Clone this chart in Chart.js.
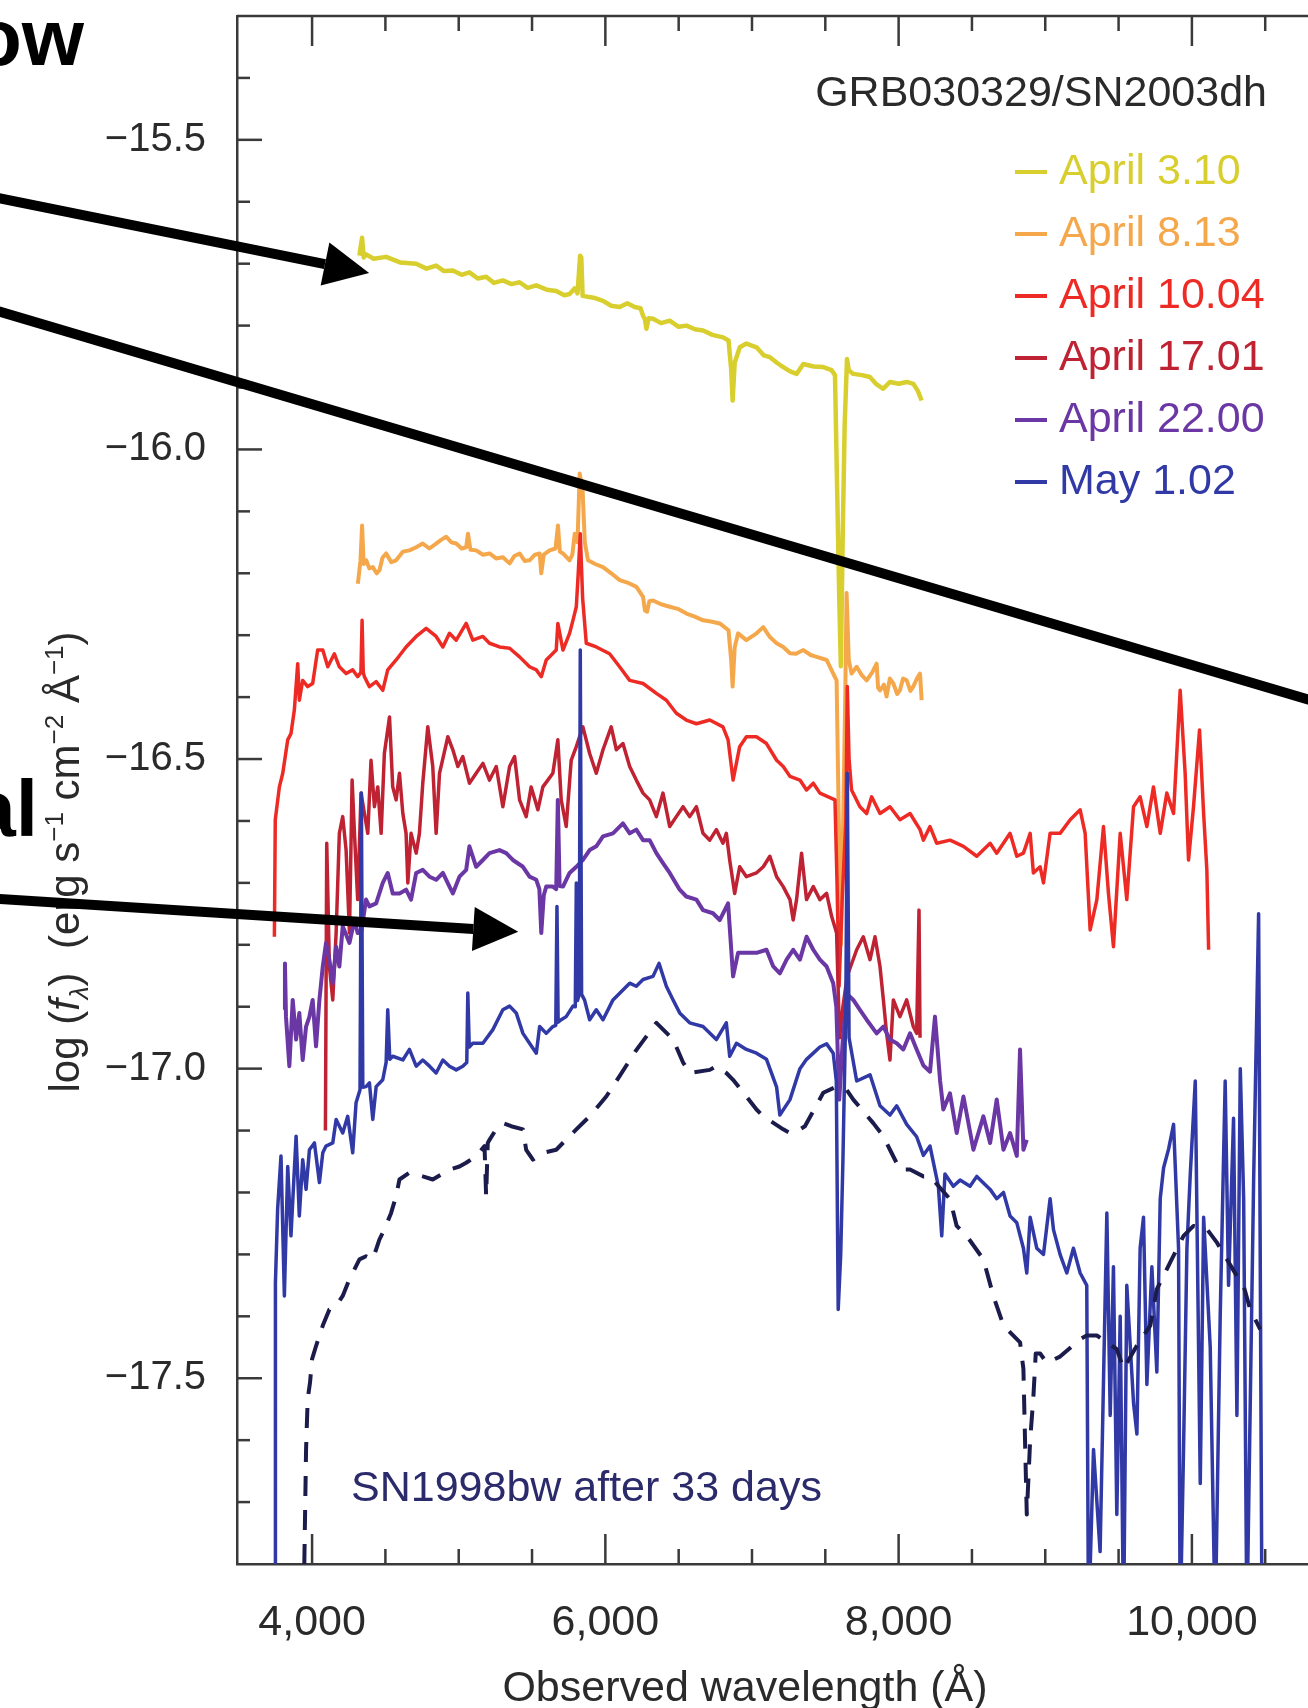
<!DOCTYPE html>
<html>
<head>
<meta charset="utf-8">
<script src="https://cdn.jsdelivr.net/npm/chart.js@4.4.1/dist/chart.umd.min.js"></script>
<style>
  html, body { margin: 0; padding: 0; background: #fff; }
  .frame { position: relative; width: 1308px; height: 1708px; overflow: hidden; }
  .box { position: absolute; left: 0; top: -64px; width: 1340px; height: 1772px; }
</style>
</head>
<body>
<div class="frame"><div class="box"><canvas id="spectra"></canvas></div></div>
<script>
// wavelength (A) vs log flux
const apr03 = [[4323,-15.687],[4330,-15.675],[4341,-15.658],[4352,-15.690],[4369,-15.685],[4420,-15.692],[4505,-15.689],[4600,-15.698],[4710,-15.700],[4780,-15.708],[4846,-15.703],[4900,-15.712],[4960,-15.711],[5020,-15.718],[5073,-15.714],[5130,-15.724],[5187,-15.721],[5240,-15.731],[5301,-15.727],[5360,-15.733],[5415,-15.730],[5470,-15.739],[5529,-15.735],[5600,-15.742],[5665,-15.744],[5720,-15.751],[5756,-15.749],[5790,-15.740],[5810,-15.748],[5828,-15.687],[5836,-15.690],[5845,-15.752],[5920,-15.755],[5984,-15.760],[6040,-15.768],[6098,-15.770],[6150,-15.764],[6200,-15.770],[6240,-15.772],[6257,-15.784],[6270,-15.790],[6280,-15.805],[6295,-15.788],[6325,-15.789],[6380,-15.796],[6439,-15.792],[6500,-15.802],[6553,-15.800],[6610,-15.806],[6667,-15.808],[6730,-15.815],[6803,-15.819],[6840,-15.824],[6858,-15.870],[6868,-15.921],[6882,-15.860],[6917,-15.835],[6962,-15.829],[7031,-15.835],[7080,-15.848],[7122,-15.851],[7170,-15.860],[7213,-15.867],[7260,-15.874],[7304,-15.878],[7350,-15.862],[7420,-15.866],[7486,-15.867],[7543,-15.872],[7566,-15.880],[7582,-16.080],[7596,-16.250],[7606,-16.350],[7618,-16.150],[7632,-15.960],[7648,-15.854],[7660,-15.872],[7691,-15.878],[7750,-15.880],[7804,-15.883],[7850,-15.895],[7895,-15.902],[7941,-15.891],[8000,-15.894],[8055,-15.891],[8100,-15.894],[8130,-15.905],[8157,-15.921]];

const apr08 = [[4312,-16.217],[4330,-16.180],[4341,-16.123],[4352,-16.185],[4369,-16.179],[4390,-16.192],[4414,-16.190],[4440,-16.200],[4460,-16.195],[4480,-16.175],[4505,-16.168],[4540,-16.182],[4573,-16.179],[4620,-16.165],[4664,-16.163],[4710,-16.158],[4755,-16.152],[4800,-16.160],[4846,-16.152],[4880,-16.146],[4915,-16.141],[4950,-16.150],[4983,-16.152],[5020,-16.160],[5051,-16.158],[5063,-16.136],[5080,-16.162],[5119,-16.163],[5165,-16.170],[5210,-16.168],[5255,-16.176],[5301,-16.174],[5347,-16.184],[5380,-16.172],[5415,-16.168],[5450,-16.180],[5483,-16.179],[5520,-16.170],[5552,-16.168],[5563,-16.200],[5580,-16.170],[5620,-16.163],[5660,-16.160],[5677,-16.123],[5690,-16.165],[5711,-16.168],[5756,-16.179],[5775,-16.170],[5791,-16.136],[5810,-16.150],[5825,-16.039],[5845,-16.066],[5860,-16.150],[5882,-16.179],[5930,-16.185],[5984,-16.190],[6040,-16.200],[6098,-16.211],[6150,-16.215],[6212,-16.222],[6257,-16.238],[6270,-16.260],[6285,-16.262],[6300,-16.245],[6325,-16.244],[6380,-16.250],[6439,-16.254],[6500,-16.258],[6553,-16.265],[6610,-16.270],[6667,-16.276],[6720,-16.278],[6780,-16.281],[6840,-16.292],[6858,-16.340],[6868,-16.383],[6882,-16.320],[6905,-16.297],[6962,-16.308],[7031,-16.297],[7077,-16.287],[7122,-16.303],[7168,-16.313],[7213,-16.319],[7259,-16.329],[7300,-16.330],[7350,-16.324],[7400,-16.332],[7441,-16.335],[7509,-16.340],[7554,-16.362],[7577,-16.373],[7592,-16.600],[7606,-16.800],[7622,-16.600],[7636,-16.400],[7645,-16.232],[7660,-16.340],[7679,-16.362],[7714,-16.351],[7750,-16.365],[7782,-16.373],[7820,-16.360],[7850,-16.346],[7860,-16.385],[7873,-16.389],[7900,-16.380],[7918,-16.399],[7940,-16.370],[7964,-16.378],[7990,-16.395],[8009,-16.389],[8030,-16.370],[8055,-16.373],[8080,-16.390],[8100,-16.383],[8125,-16.370],[8146,-16.362],[8157,-16.405]];

const apr10 = [[3743,-16.787],[3749,-16.598],[3777,-16.545],[3800,-16.523],[3834,-16.469],[3856,-16.459],[3879,-16.421],[3902,-16.346],[3913,-16.405],[3936,-16.373],[3970,-16.383],[4004,-16.378],[4038,-16.324],[4073,-16.324],[4107,-16.351],[4152,-16.330],[4186,-16.351],[4232,-16.362],[4277,-16.356],[4311,-16.367],[4333,-16.360],[4341,-16.276],[4349,-16.360],[4357,-16.367],[4391,-16.383],[4437,-16.375],[4482,-16.389],[4516,-16.356],[4573,-16.340],[4641,-16.319],[4710,-16.302],[4778,-16.289],[4846,-16.302],[4892,-16.319],[4937,-16.297],[4983,-16.308],[5051,-16.281],[5096,-16.308],[5165,-16.302],[5210,-16.313],[5278,-16.319],[5347,-16.321],[5415,-16.335],[5483,-16.351],[5529,-16.356],[5563,-16.367],[5597,-16.340],[5665,-16.324],[5676,-16.281],[5711,-16.324],[5756,-16.297],[5779,-16.276],[5802,-16.254],[5815,-16.200],[5829,-16.136],[5845,-16.240],[5870,-16.313],[5938,-16.319],[6029,-16.330],[6097,-16.351],[6166,-16.373],[6257,-16.378],[6348,-16.394],[6416,-16.405],[6484,-16.426],[6552,-16.437],[6621,-16.443],[6712,-16.437],[6802,-16.448],[6837,-16.469],[6871,-16.534],[6916,-16.480],[6962,-16.464],[7030,-16.464],[7099,-16.475],[7168,-16.502],[7213,-16.512],[7259,-16.528],[7327,-16.534],[7372,-16.550],[7418,-16.539],[7463,-16.555],[7520,-16.561],[7566,-16.566],[7580,-16.700],[7594,-16.867],[7615,-16.727],[7640,-16.600],[7650,-16.383],[7662,-16.500],[7679,-16.550],[7736,-16.577],[7782,-16.588],[7816,-16.561],[7873,-16.588],[7941,-16.577],[8009,-16.598],[8078,-16.588],[8146,-16.614],[8169,-16.631],[8214,-16.609],[8260,-16.636],[8351,-16.631],[8442,-16.641],[8533,-16.657],[8624,-16.636],[8669,-16.652],[8760,-16.620],[8806,-16.657],[8851,-16.652],[8897,-16.620],[8919,-16.684],[8965,-16.674],[8988,-16.700],[9033,-16.620],[9101,-16.620],[9170,-16.598],[9238,-16.582],[9272,-16.620],[9306,-16.776],[9352,-16.727],[9397,-16.609],[9431,-16.717],[9465,-16.803],[9511,-16.620],[9556,-16.727],[9602,-16.577],[9647,-16.561],[9693,-16.609],[9738,-16.545],[9784,-16.620],[9829,-16.555],[9875,-16.588],[9920,-16.389],[9954,-16.523],[9977,-16.663],[10011,-16.577],[10052,-16.453],[10080,-16.588],[10102,-16.679],[10114,-16.808]];

const apr17 = [[4091,-17.100],[4100,-16.636],[4118,-16.835],[4141,-16.889],[4164,-16.781],[4186,-16.620],[4209,-16.593],[4232,-16.647],[4255,-16.781],[4273,-16.534],[4289,-16.620],[4311,-16.727],[4334,-16.555],[4357,-16.588],[4380,-16.620],[4402,-16.502],[4425,-16.577],[4448,-16.545],[4471,-16.620],[4493,-16.491],[4528,-16.432],[4550,-16.545],[4573,-16.566],[4596,-16.523],[4619,-16.588],[4641,-16.620],[4653,-16.700],[4675,-16.620],[4710,-16.652],[4732,-16.620],[4755,-16.539],[4789,-16.448],[4823,-16.512],[4846,-16.620],[4869,-16.523],[4926,-16.464],[4960,-16.485],[4994,-16.512],[5028,-16.496],[5073,-16.539],[5119,-16.523],[5165,-16.507],[5210,-16.534],[5256,-16.512],[5301,-16.577],[5347,-16.512],[5381,-16.496],[5415,-16.566],[5460,-16.593],[5494,-16.545],[5540,-16.582],[5574,-16.545],[5608,-16.534],[5642,-16.523],[5676,-16.469],[5699,-16.566],[5733,-16.609],[5767,-16.502],[5802,-16.480],[5847,-16.448],[5893,-16.491],[5938,-16.523],[5984,-16.485],[6040,-16.448],[6075,-16.485],[6120,-16.475],[6166,-16.512],[6211,-16.534],[6257,-16.555],[6302,-16.566],[6348,-16.593],[6393,-16.555],[6439,-16.609],[6484,-16.593],[6530,-16.577],[6575,-16.593],[6621,-16.577],[6666,-16.620],[6712,-16.631],[6757,-16.614],[6802,-16.636],[6825,-16.620],[6848,-16.663],[6882,-16.717],[6916,-16.674],[6962,-16.690],[7030,-16.684],[7077,-16.674],[7122,-16.657],[7168,-16.690],[7213,-16.706],[7259,-16.727],[7281,-16.760],[7304,-16.727],[7338,-16.652],[7372,-16.727],[7418,-16.706],[7463,-16.727],[7509,-16.717],[7543,-16.754],[7577,-16.781],[7597,-16.950],[7620,-16.900],[7650,-16.850],[7714,-16.808],[7759,-16.787],[7805,-16.824],[7839,-16.787],[7873,-16.835],[7896,-16.889],[7918,-16.943],[7941,-16.986],[7964,-16.889],[8009,-16.916],[8055,-16.889],[8100,-16.932],[8123,-16.943],[8139,-16.744],[8146,-16.950]];

const apr22 = [[3811,-16.905],[3815,-16.830],[3822,-16.916],[3845,-16.996],[3868,-16.889],[3891,-16.953],[3913,-16.910],[3936,-16.986],[3959,-16.932],[3982,-16.916],[4004,-16.889],[4027,-16.964],[4050,-16.889],[4073,-16.835],[4095,-16.797],[4118,-16.824],[4141,-16.862],[4164,-16.803],[4186,-16.835],[4209,-16.770],[4255,-16.797],[4289,-16.760],[4311,-16.781],[4334,-16.781],[4368,-16.727],[4391,-16.738],[4437,-16.733],[4482,-16.700],[4516,-16.684],[4550,-16.717],[4596,-16.717],[4641,-16.711],[4675,-16.727],[4710,-16.684],[4755,-16.679],[4801,-16.690],[4846,-16.695],[4892,-16.684],[4937,-16.706],[4960,-16.717],[5005,-16.690],[5051,-16.679],[5073,-16.641],[5119,-16.674],[5165,-16.663],[5210,-16.652],[5278,-16.647],[5324,-16.652],[5369,-16.663],[5438,-16.674],[5483,-16.690],[5529,-16.695],[5550,-16.710],[5563,-16.781],[5580,-16.720],[5597,-16.706],[5642,-16.706],[5665,-16.710],[5676,-16.566],[5688,-16.705],[5711,-16.706],[5756,-16.684],[5802,-16.674],[5847,-16.663],[5893,-16.647],[5938,-16.641],[5984,-16.625],[6052,-16.620],[6120,-16.604],[6166,-16.620],[6211,-16.614],[6257,-16.631],[6302,-16.631],[6348,-16.652],[6393,-16.668],[6439,-16.684],[6507,-16.711],[6552,-16.722],[6621,-16.727],[6666,-16.744],[6734,-16.749],[6780,-16.760],[6837,-16.733],[6871,-16.851],[6905,-16.813],[6962,-16.813],[7031,-16.813],[7099,-16.808],[7145,-16.835],[7190,-16.846],[7236,-16.824],[7281,-16.808],[7327,-16.824],[7372,-16.787],[7418,-16.808],[7463,-16.824],[7509,-16.835],[7554,-16.862],[7575,-16.900],[7595,-17.050],[7620,-16.950],[7650,-16.880],[7691,-16.889],[7736,-16.905],[7782,-16.921],[7850,-16.943],[7896,-16.932],[7941,-16.953],[7987,-16.959],[8032,-16.969],[8078,-16.943],[8123,-16.969],[8169,-16.995],[8214,-17.005],[8248,-16.916],[8283,-17.020],[8305,-17.066],[8350,-17.040],[8396,-17.104],[8442,-17.045],[8510,-17.131],[8578,-17.077],[8624,-17.120],[8669,-17.050],[8715,-17.131],[8760,-17.104],[8806,-17.141],[8828,-16.969],[8851,-17.131],[8874,-17.115]];

const may01 = [[3749,-17.900],[3750,-17.346],[3765,-17.227],[3788,-17.141],[3811,-17.367],[3834,-17.158],[3856,-17.270],[3891,-17.109],[3913,-17.238],[3936,-17.147],[3959,-17.195],[3982,-17.131],[4016,-17.120],[4050,-17.184],[4073,-17.136],[4095,-17.125],[4141,-17.120],[4164,-17.082],[4209,-17.104],[4243,-17.077],[4277,-17.136],[4300,-17.055],[4327,-17.034],[4336,-16.555],[4346,-17.030],[4368,-17.029],[4391,-17.023],[4414,-17.082],[4437,-17.029],[4482,-17.018],[4505,-16.990],[4516,-16.905],[4530,-16.985],[4550,-16.980],[4619,-16.986],[4664,-16.969],[4710,-16.996],[4755,-16.986],[4801,-16.996],[4846,-17.007],[4892,-16.986],[4937,-16.996],[4983,-17.002],[5028,-16.996],[5055,-16.990],[5062,-16.878],[5072,-16.965],[5096,-16.959],[5165,-16.959],[5233,-16.937],[5301,-16.905],[5347,-16.899],[5392,-16.910],[5438,-16.943],[5483,-16.959],[5529,-16.975],[5552,-16.932],[5597,-16.943],[5642,-16.932],[5662,-16.930],[5670,-16.738],[5678,-16.925],[5699,-16.921],[5733,-16.916],[5779,-16.899],[5795,-16.900],[5802,-16.700],[5810,-16.890],[5822,-16.880],[5829,-16.324],[5838,-16.880],[5858,-16.889],[5893,-16.921],[5938,-16.905],[5984,-16.921],[6052,-16.889],[6120,-16.873],[6166,-16.862],[6211,-16.867],[6257,-16.856],[6325,-16.851],[6366,-16.830],[6416,-16.867],[6462,-16.889],[6507,-16.910],[6575,-16.926],[6666,-16.932],[6757,-16.953],[6825,-16.926],[6848,-16.980],[6894,-16.959],[6962,-16.969],[7031,-16.975],[7099,-16.985],[7168,-17.030],[7190,-17.075],[7259,-17.050],[7327,-17.000],[7372,-16.985],[7418,-16.975],[7463,-16.965],[7509,-16.960],[7554,-16.975],[7575,-17.020],[7588,-17.389],[7605,-17.300],[7620,-17.150],[7640,-16.900],[7650,-16.523],[7662,-16.950],[7714,-17.020],[7805,-17.010],[7873,-17.060],[7941,-17.075],[7987,-17.060],[8055,-17.090],[8123,-17.110],[8169,-17.140],[8214,-17.125],[8271,-17.190],[8294,-17.270],[8316,-17.170],[8373,-17.190],[8419,-17.180],[8487,-17.190],[8533,-17.174],[8624,-17.195],[8669,-17.210],[8715,-17.200],[8760,-17.238],[8806,-17.249],[8851,-17.290],[8874,-17.330],[8897,-17.240],[8942,-17.290],[8988,-17.300],[9033,-17.210],[9056,-17.260],[9101,-17.300],[9147,-17.330],[9192,-17.290],[9238,-17.330],[9283,-17.350],[9295,-17.900],[9329,-17.615],[9374,-17.780],[9420,-17.233],[9443,-17.560],[9465,-17.320],[9488,-17.720],[9511,-17.400],[9534,-17.900],[9556,-17.350],[9602,-17.540],[9625,-17.590],[9647,-17.290],[9670,-17.240],[9693,-17.510],[9727,-17.320],[9761,-17.490],[9784,-17.210],[9807,-17.160],[9841,-17.130],[9875,-17.090],[9909,-17.290],[9920,-17.900],[9943,-17.615],[9966,-17.290],[9989,-17.170],[10023,-17.020],[10057,-17.670],[10080,-17.240],[10125,-17.450],[10159,-17.900],[10193,-17.400],[10227,-17.020],[10250,-17.350],[10284,-17.080],[10307,-17.560],[10330,-17.000],[10353,-17.210],[10375,-17.900],[10421,-17.180],[10455,-16.750],[10478,-17.900]];

const sn98bw = [[3947,-17.800],[3959,-17.615],[3970,-17.534],[3986,-17.507],[4000,-17.469],[4027,-17.448],[4073,-17.415],[4118,-17.389],[4164,-17.383],[4209,-17.367],[4255,-17.340],[4277,-17.330],[4323,-17.308],[4368,-17.303],[4414,-17.308],[4459,-17.276],[4493,-17.260],[4539,-17.233],[4573,-17.206],[4596,-17.179],[4664,-17.168],[4755,-17.174],[4823,-17.179],[4937,-17.163],[5005,-17.158],[5051,-17.152],[5119,-17.141],[5176,-17.125],[5187,-17.206],[5198,-17.120],[5210,-17.115],[5255,-17.098],[5301,-17.088],[5358,-17.093],[5438,-17.098],[5460,-17.131],[5506,-17.147],[5574,-17.136],[5665,-17.131],[5802,-17.098],[5893,-17.077],[6006,-17.045],[6097,-17.012],[6211,-16.970],[6348,-16.926],[6462,-16.953],[6530,-16.990],[6575,-17.007],[6712,-17.002],[6757,-16.996],[6825,-17.007],[6871,-17.018],[6962,-17.045],[7031,-17.066],[7077,-17.077],[7213,-17.098],[7259,-17.104],[7304,-17.101],[7361,-17.093],[7486,-17.039],[7577,-17.029],[7645,-17.034],[7691,-17.050],[7827,-17.088],[7895,-17.109],[7941,-17.131],[8009,-17.163],[8078,-17.163],[8169,-17.174],[8214,-17.174],[8351,-17.211],[8396,-17.254],[8464,-17.270],[8578,-17.308],[8646,-17.367],[8715,-17.415],[8828,-17.442],[8851,-17.485],[8862,-17.600],[8874,-17.720],[8897,-17.600],[8919,-17.530],[8935,-17.460],[8965,-17.460],[9010,-17.475],[9056,-17.470],[9101,-17.465],[9238,-17.437],[9283,-17.431],[9352,-17.431],[9488,-17.453],[9534,-17.485],[9625,-17.447],[9670,-17.431],[9716,-17.415],[9761,-17.356],[9852,-17.313],[9943,-17.270],[10011,-17.254],[10102,-17.259],[10171,-17.281],[10307,-17.335],[10353,-17.351],[10398,-17.389],[10466,-17.421]];

const xMajor = [4000, 6000, 8000, 10000];
const xMinor = [4500, 5000, 5500, 6500, 7000, 7500, 8500, 9000, 9500, 10500];
const yMajor = [-17.5, -17.0, -16.5, -16.0, -15.5];
const yMinor = [-17.7, -17.6, -17.4, -17.3, -17.2, -17.1, -16.9, -16.8, -16.7, -16.6, -16.4, -16.3, -16.2, -16.1, -15.9, -15.8, -15.7, -15.6, -15.4];

// callout arrows from the slide, in data units: [wavelength, log flux]
const callouts = [
  { from: [1863, -15.594], to: [4389, -15.715], head: true },
  { from: [1863, -15.777], to: [11010, -16.419], head: false },
  { from: [1863, -16.726], to: [5406, -16.779], head: true }
];

const series = [
  { label: "April 3.10", points: apr03, color: "#d8cf2f", width: 4.5, order: 6 },
  { label: "April 8.13", points: apr08, color: "#f5a84b", width: 4, order: 5 },
  { label: "April 10.04", points: apr10, color: "#ee2a24", width: 3.5, order: 4 },
  { label: "April 17.01", points: apr17, color: "#bf2232", width: 3.5, order: 3 },
  { label: "April 22.00", points: apr22, color: "#6a37a4", width: 4, order: 2 },
  { label: "May 1.02", points: may01, color: "#3039a6", width: 3.5, order: 1 },
  { label: "SN1998bw after 33 days", points: sn98bw, color: "#1c1c4c", width: 4, order: 0, dash: [20, 14], noLegend: true }
];

const AXIS = "#3a3a3a";
const FONT = "'Liberation Sans', Arial, sans-serif";

function drawArrow(ctx, x0, y0, x1, y1, head) {
  const dx = x1 - x0, dy = y1 - y0;
  const len = Math.hypot(dx, dy);
  const ux = dx / len, uy = dy / len;
  const L = head ? 45 : 0;
  ctx.beginPath();
  ctx.moveTo(x0, y0);
  ctx.lineTo(x1 - ux * L, y1 - uy * L);
  ctx.stroke();
  if (head) {
    const bx = x1 - ux * L, by = y1 - uy * L;
    ctx.beginPath();
    ctx.moveTo(x1, y1);
    ctx.lineTo(bx - uy * 22, by + ux * 22);
    ctx.lineTo(bx + uy * 22, by - ux * 22);
    ctx.closePath();
    ctx.fill();
  }
}

const frame = {
  id: "frame",
  beforeDatasetsDraw(chart) {
    const { ctx, chartArea: a, scales: { x, y } } = chart;
    ctx.save();
    ctx.strokeStyle = AXIS;
    ctx.lineWidth = 2.5;
    ctx.beginPath();
    ctx.moveTo(a.left, a.top);
    ctx.lineTo(a.right, a.top);
    ctx.stroke();
    const tick = (px, py, dx, dy) => {
      ctx.beginPath();
      ctx.moveTo(px, py);
      ctx.lineTo(px + dx, py + dy);
      ctx.stroke();
    };
    xMajor.forEach(v => { const p = x.getPixelForValue(v); tick(p, a.bottom, 0, -30); tick(p, a.top, 0, 30); });
    xMinor.forEach(v => { const p = x.getPixelForValue(v); tick(p, a.bottom, 0, -15); tick(p, a.top, 0, 15); });
    yMajor.forEach(v => tick(a.left, y.getPixelForValue(v), 25, 0));
    yMinor.forEach(v => tick(a.left, y.getPixelForValue(v), 13, 0));
    ctx.restore();
  },
  afterDraw(chart) {
    const { ctx, chartArea: a, scales: { x, y } } = chart;
    ctx.save();

    // legend, coloured text
    ctx.textBaseline = "middle";
    ctx.textAlign = "left";
    ctx.font = "43px " + FONT;
    series.filter(s => !s.noLegend).forEach((s, i) => {
      const ly = a.top + 156 + 62 * i;
      ctx.strokeStyle = s.color;
      ctx.lineWidth = 4;
      ctx.beginPath();
      ctx.moveTo(a.left + 778, ly);
      ctx.lineTo(a.left + 810, ly);
      ctx.stroke();
      ctx.fillStyle = s.color;
      ctx.fillText(s.label, a.left + 822, ly);
    });

    ctx.textBaseline = "alphabetic";
    ctx.fillStyle = "#2a2a2a";
    ctx.textAlign = "right";
    ctx.fillText("GRB030329/SN2003dh", a.left + 1030, a.top + 90);

    ctx.textAlign = "left";
    ctx.fillStyle = "#2b2a6b";
    ctx.fillText("SN1998bw after 33 days", a.left + 114, a.top + 1485);

    // x axis title
    ctx.fillStyle = "#2a2a2a";
    ctx.textAlign = "center";
    ctx.textBaseline = "middle";
    ctx.font = "43px " + FONT;
    ctx.fillText("Observed wavelength (\u00c5)", a.left + 508, a.bottom + 125);

    // y axis title with sub/superscripts
    const big = "42px " + FONT, small = "26px " + FONT;
    const parts = [
      { t: "log (", f: big }, { t: "f", f: "italic " + big }, { t: "\u03bb", f: "italic " + small, dy: 9 },
      { t: ")  (erg s", f: big }, { t: "\u22121", f: small, dy: -16 }, { t: " cm", f: big },
      { t: "\u22122", f: small, dy: -16 }, { t: " \u00c5", f: big }, { t: "\u22121", f: small, dy: -16 }, { t: ")", f: big }
    ];
    ctx.save();
    ctx.translate(a.left - 158, a.top + 846);
    ctx.rotate(-Math.PI / 2);
    let total = 0;
    parts.forEach(p => { ctx.font = p.f; p.w = ctx.measureText(p.t).width; total += p.w; });
    let px = -total / 2;
    ctx.textAlign = "left";
    ctx.textBaseline = "alphabetic";
    parts.forEach(p => { ctx.font = p.f; ctx.fillText(p.t, px, p.dy || 0); px += p.w; });
    ctx.restore();

    // slide overlay: arrows and cut-off words
    ctx.strokeStyle = "#000";
    ctx.fillStyle = "#000";
    ctx.lineWidth = 10;
    ctx.lineCap = "butt";
    callouts.forEach(c => {
      drawArrow(ctx, x.getPixelForValue(c.from[0]), y.getPixelForValue(c.from[1]),
        x.getPixelForValue(c.to[0]), y.getPixelForValue(c.to[1]), c.head);
    });
    ctx.font = "bold 80px 'Liberation Sans Narrow', 'Liberation Sans', Arial, sans-serif";
    ctx.textAlign = "right";
    ctx.textBaseline = "alphabetic";
    ctx.fillText("ow", a.left - 153, a.top + 49);
    ctx.fillText("al", a.left - 199, a.top + 820);
    ctx.restore();
  }
};

new Chart(document.getElementById("spectra"), {
  type: "line",
  data: {
    datasets: series.map(s => ({
      label: s.label,
      data: s.points.map(([w, f]) => ({ x: w, y: f })),
      borderColor: s.color,
      borderWidth: s.width,
      borderDash: s.dash || [],
      borderJoinStyle: "round",
      pointRadius: 0,
      tension: 0,
      fill: false,
      order: s.order,
      clip: 0
    }))
  },
  options: {
    responsive: true,
    maintainAspectRatio: false,
    animation: false,
    devicePixelRatio: 1,
    events: [],
    layout: { padding: { top: 80, right: 0, bottom: 0, left: 0 } },
    plugins: { legend: { display: false }, tooltip: { enabled: false } },
    scales: {
      x: {
        type: "linear",
        min: 3488,
        max: 11010,
        grid: { display: false, drawTicks: false },
        border: { display: true, color: AXIS, width: 2.5 },
        ticks: {
          padding: 33,
          color: "#2a2a2a",
          font: { family: FONT, size: 43 },
          callback: v => v.toLocaleString("en-US")
        },
        afterBuildTicks: s => { s.ticks = xMajor.map(v => ({ value: v })); },
        afterFit: s => { s.height = 144; }
      },
      y: {
        type: "linear",
        min: -17.8,
        max: -15.3,
        grid: { display: false, drawTicks: false },
        border: { display: true, color: AXIS, width: 2.5 },
        ticks: {
          padding: 31,
          color: "#2a2a2a",
          font: { family: FONT, size: 40 },
          callback: v => v.toFixed(1).replace("-", "\u2212")
        },
        afterBuildTicks: s => { s.ticks = yMajor.map(v => ({ value: v })); },
        afterFit: s => { s.width = 237; }
      }
    }
  },
  plugins: [frame]
});
</script>
</body>
</html>
